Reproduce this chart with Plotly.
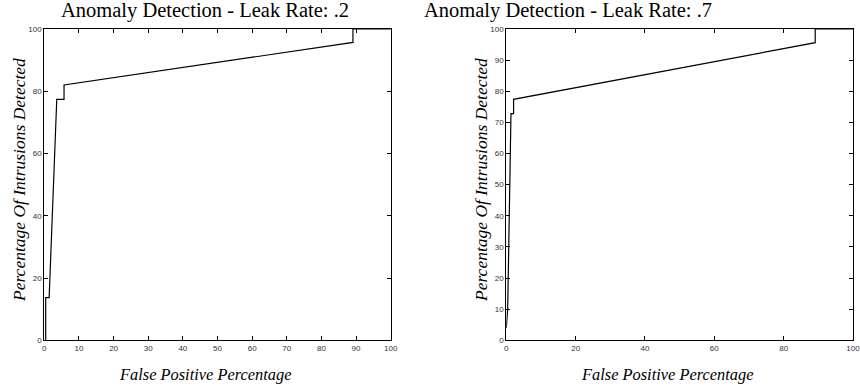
import plotly.graph_objects as go

# Left panel: Leak Rate .2
fp_left = [0.4, 0.4, 1.4, 3.6, 5.7, 5.7, 89.1, 89.1, 100]
det_left = [0, 13.7, 13.7, 77.4, 77.4, 82.0, 95.7, 100, 100]

# Right panel: Leak Rate .7
fp_right = [0.0, 0.4, 1.35, 2.1, 2.1, 89.1, 89.1, 100]
det_right = [4.0, 10.3, 72.8, 72.8, 77.4, 95.6, 100, 100]

titles = ["Anomaly Detection - Leak Rate: .2", "Anomaly Detection - Leak Rate: .7"]
x_label = "False Positive Percentage"
y_label = "Percentage Of Intrusions Detected"
x_ticks_left = list(range(0, 101, 10))
y_ticks_left = list(range(0, 101, 20))
x_ticks_right = list(range(0, 101, 20))
y_ticks_right = list(range(0, 101, 10))

W, H = 860, 387
fig = go.Figure()
fig.add_trace(go.Scatter(x=fp_left, y=det_left, mode="lines", xaxis="x", yaxis="y",
                         line=dict(color="black", width=1.2), showlegend=False))
fig.add_trace(go.Scatter(x=fp_right, y=det_right, mode="lines", xaxis="x2", yaxis="y2",
                         line=dict(color="black", width=1.2), showlegend=False))

ydom = [(387 - 340.3) / 387, (387 - 29) / 387]
xdom1 = [44.3 / W, 390.7 / W]
xdom2 = [506.3 / W, 853 / W]

tickfont = dict(family="Liberation Sans, Arial, sans-serif", size=8, color="#333")
common = dict(showline=True, linecolor="black", linewidth=1, mirror="ticks",
              ticks="inside", ticklen=4, tickcolor="black", tickwidth=1,
              showgrid=False, zeroline=False, tickfont=tickfont, range=[0, 100],
              automargin=False, fixedrange=True, ticklabeloverflow="allow")

fig.update_layout(
    template="none",
    width=W, height=H, margin=dict(l=0, r=0, t=0, b=0, pad=0, autoexpand=False),
    paper_bgcolor="white", plot_bgcolor="white",
    xaxis=dict(domain=xdom1, anchor="y", tickvals=x_ticks_left, **common),
    yaxis=dict(domain=ydom, anchor="x", tickvals=y_ticks_left, **common),
    xaxis2=dict(domain=xdom2, anchor="y2", tickvals=x_ticks_right, **common),
    yaxis2=dict(domain=ydom, anchor="x2", tickvals=y_ticks_right, **common),
)

title_font = dict(family="Liberation Serif, Times New Roman, serif", size=20.5, color="black")
xlabel_font = dict(family="Liberation Serif, Times New Roman, serif", size=16.4, color="black")
ylabel_font = dict(family="Liberation Serif, Times New Roman, serif", size=17.5, color="black")

annotations = [
    dict(text=titles[0], x=205 / W, y=1 - 11 / H, xref="paper", yref="paper",
         showarrow=False, font=title_font, xanchor="center", yanchor="middle"),
    dict(text=titles[1], x=568 / W, y=1 - 11 / H, xref="paper", yref="paper",
         showarrow=False, font=title_font, xanchor="center", yanchor="middle"),
    dict(text="<i>" + x_label + "</i>", x=205 / W, y=1 - 374 / H, xref="paper", yref="paper",
         showarrow=False, font=xlabel_font, xanchor="center", yanchor="middle"),
    dict(text="<i>" + x_label + "</i>", x=667 / W, y=1 - 374 / H, xref="paper", yref="paper",
         showarrow=False, font=xlabel_font, xanchor="center", yanchor="middle"),
    dict(text="<i>" + y_label + "</i>", x=19 / W, y=1 - 180 / H, xref="paper", yref="paper",
         showarrow=False, font=ylabel_font, textangle=-90, xanchor="center", yanchor="middle"),
    dict(text="<i>" + y_label + "</i>", x=481 / W, y=1 - 180 / H, xref="paper", yref="paper",
         showarrow=False, font=ylabel_font, textangle=-90, xanchor="center", yanchor="middle"),
]
fig.update_layout(annotations=annotations)

fig.write_html("out.html", config={"displayModeBar": False, "staticPlot": True},
               post_script="document.body.style.margin='0';document.body.style.padding='0';")
